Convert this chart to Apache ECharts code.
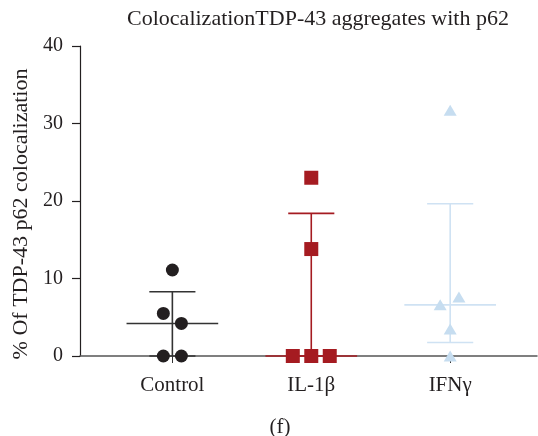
<!DOCTYPE html>
<html>
<head>
<meta charset="utf-8">
<script src="https://cdn.jsdelivr.net/npm/echarts@6/dist/echarts.min.js"></script>
<style>
  html, body { margin: 0; padding: 0; background: #fff; }
  #chart { width: 538px; height: 436px; }
</style>
</head>
<body>
<div id="chart"></div>
<script>
// groups along the x axis
const categories = ['Control', 'IL-1\u03b2', 'IFN\u03b3']
const yTicks = [0, 10, 20, 30, 40]

// values (% colocalization)
const controlValues = [11.1, 5.5, 4.2, 0, 0]
const il1bValues = [23.0, 13.8, 0, 0, 0]
const ifngValues = [31.7, 7.6, 6.6, 3.5, 0]

// horizontal scatter of the points inside a group (in group units)
const controlJitter = [0, -0.065, 0.065, -0.065, 0.065]
const il1bJitter = [0, 0, -0.133, 0, 0.133]
const ifngJitter = [0, 0.063, -0.072, 0, 0]

const colors = ['#231f20', '#a51b21', '#c6ddf0']
const barColors = ['#333333', '#a51b21', '#cfe2f3']

const FONT = 'Liberation Serif'

// median and interquartile range, same rule as Prism ((n+1)p)
function quantile(sorted, p) {
  const pos = (sorted.length + 1) * p - 1
  const lo = Math.max(0, Math.floor(pos))
  const hi = Math.min(sorted.length - 1, Math.ceil(pos))
  return sorted[lo] + (sorted[hi] - sorted[lo]) * (pos - lo)
}
function summary(values) {
  const s = values.slice().sort((a, b) => a - b)
  return [quantile(s, 0.25), quantile(s, 0.5), quantile(s, 0.75)]
}

const groups = [controlValues, il1bValues, ifngValues]
const jitters = [controlJitter, il1bJitter, ifngJitter]
const stats = groups.map((g, i) => [i].concat(summary(g)))

const chart = echarts.init(document.getElementById('chart'))

const scatterSeries = groups.map((vals, i) => ({
  name: categories[i],
  type: 'scatter',
  z: 5,
  symbol: ['circle', 'rect', 'triangle'][i],
  symbolSize: [13, 14, [13, 11]][i],
  itemStyle: { color: colors[i], opacity: 1 },
  data: vals.map((v, k) => [i + jitters[i][k], v])
}))

chart.setOption({
  animation: false,
  title: [
    {
      text: 'ColocalizationTDP-43 aggregates with p62',
      left: 313,
      top: 3,
      textAlign: 'center',
      textStyle: { fontFamily: FONT, fontSize: 22, fontWeight: 'normal', color: '#231f20' }
    },
    {
      text: '(f)',
      left: 275,
      top: 412,
      textAlign: 'center',
      textStyle: { fontFamily: FONT, fontSize: 21, fontWeight: 'normal', color: '#231f20' }
    }
  ],
  grid: { left: 80, right: 1, top: 46, bottom: 80 },
  xAxis: {
    type: 'value',
    min: -0.665,
    max: 2.625,
    splitLine: { show: false },
    axisLine: { show: true, onZero: false, lineStyle: { color: '#555555', width: 1.5 } },
    axisTick: {
      show: true,
      customValues: [0, 1, 2],
      length: 7,
      lineStyle: { color: '#333333', width: 1 }
    },
    axisLabel: {
      customValues: [0, 1, 2],
      margin: 19,
      formatter: v => categories[Math.round(v)] || '',
      fontFamily: FONT,
      fontSize: 21,
      color: '#231f20'
    }
  },
  yAxis: {
    type: 'value',
    min: 0,
    max: 40,
    interval: 10,
    name: '% Of TDP-43 p62 colocalization',
    nameLocation: 'middle',
    nameGap: 48,
    nameTextStyle: { fontFamily: FONT, fontSize: 22, color: '#231f20', padding: [0, 26, 0, 0] },
    splitLine: { show: false },
    axisLine: { show: true, onZero: false, lineStyle: { color: '#231f20', width: 1.2 } },
    axisTick: { show: true, length: 8, lineStyle: { color: '#231f20', width: 1.2 } },
    axisLabel: {
      margin: 17,
      formatter: v => (yTicks.indexOf(v) >= 0 ? String(v) : ''),
      fontFamily: FONT,
      fontSize: 20,
      color: '#231f20'
    }
  },
  series: [
    {
      type: 'custom',
      z: 2,
      data: stats,
      renderItem: function (params, api) {
        const i = api.value(0)
        const q1 = api.value(1)
        const med = api.value(2)
        const q3 = api.value(3)
        const color = barColors[i]
        const style = { stroke: color, lineWidth: 1.6 }
        const pBottom = api.coord([i, q1])
        const pTop = api.coord([i, q3])
        const mL = api.coord([i - 0.33, med])
        const mR = api.coord([i + 0.33, med])
        const cap = 0.166
        const tL = api.coord([i - cap, q3])
        const tR = api.coord([i + cap, q3])
        const bL = api.coord([i - cap, q1])
        const bR = api.coord([i + cap, q1])
        return {
          type: 'group',
          children: [
            { type: 'line', shape: { x1: pBottom[0], y1: pBottom[1], x2: pTop[0], y2: pTop[1] }, style: style },
            { type: 'line', shape: { x1: mL[0], y1: mL[1], x2: mR[0], y2: mR[1] }, style: style },
            { type: 'line', shape: { x1: tL[0], y1: tL[1], x2: tR[0], y2: tR[1] }, style: style },
            { type: 'line', shape: { x1: bL[0], y1: bL[1], x2: bR[0], y2: bR[1] }, style: style }
          ]
        }
      }
    }
  ].concat(scatterSeries)
})
</script>
</body>
</html>
